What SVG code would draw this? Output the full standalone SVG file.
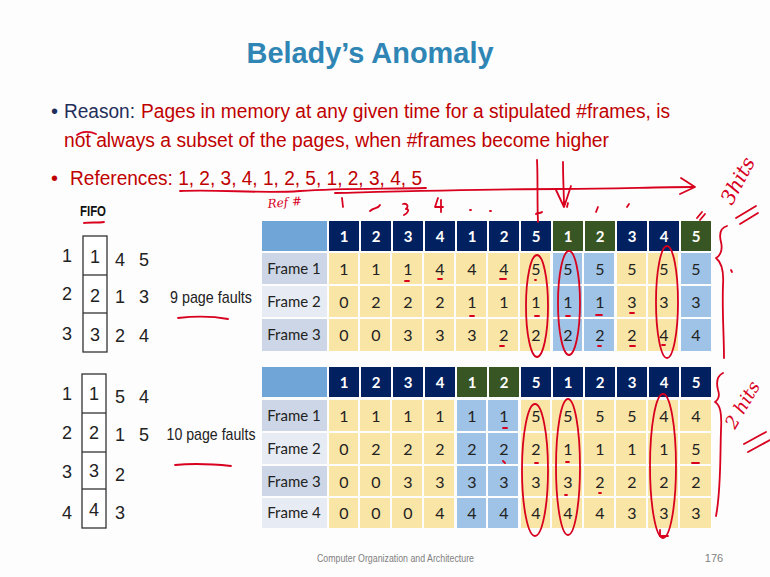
<svg xmlns="http://www.w3.org/2000/svg" width="770" height="577" viewBox="0 0 770 577">
<style>
.t{font-family:"Liberation Sans Narrow","Liberation Sans",Arial,sans-serif}
.nv{fill:#002060}.gr{fill:#375623}.ye{fill:#f9e5a6}.bl{fill:#9fc3e6}.hl{fill:#6fa5d7}.fd{fill:#ccd6e6}.fl{fill:#e7ebf3}
.hn{font-family:Lato,"Open Sans",sans-serif;font-weight:bold;font-size:15px;fill:#fff;text-anchor:middle}
.dn{font-family:Lato,"Open Sans",sans-serif;font-size:16px;fill:#222;text-anchor:middle}
.fn{font-family:Lato,"Open Sans",sans-serif;font-size:15px;fill:#222;text-anchor:middle}
.fi{font-family:"Liberation Sans",Arial,sans-serif;font-size:18px;fill:#222;text-anchor:middle}
.bx{fill:#fff;stroke:#333;stroke-width:1.3}
.ink{fill:none;stroke:#d8001e;stroke-width:1.8;stroke-linecap:round;stroke-linejoin:round}
.hw{font-family:"DejaVu Serif",serif;font-style:italic;fill:#d8001e}
</style>
<rect width="770" height="577" fill="#fdfdfd"/>
<g id="title"><text class="t" x="370" y="63" font-size="30" font-weight="bold" fill="#2f86b5" text-anchor="middle" textLength="247" lengthAdjust="spacingAndGlyphs">Belady’s Anomaly</text></g>
<g id="bullets" font-size="20">
<text class="t" x="51" y="118" fill="#1f2d5a">•</text>
<text class="t" x="64" y="118" fill="#1f2d5a" textLength="71" lengthAdjust="spacingAndGlyphs">Reason:</text>
<text class="t" x="141" y="118" fill="#c00000" textLength="529" lengthAdjust="spacingAndGlyphs">Pages in memory at any given time for a stipulated #frames, is</text>
<text class="t" x="64" y="147" fill="#c00000" textLength="545" lengthAdjust="spacingAndGlyphs">not always a subset of the pages, when #frames become higher</text>
<text class="t" x="51" y="185" fill="#c00000">•</text>
<text class="t" x="70" y="185" fill="#c00000" textLength="352" lengthAdjust="spacingAndGlyphs">References: 1, 2, 3, 4, 1, 2, 5, 1, 2, 3, 4, 5</text>
</g>
<g id="fifo3">
<text x="93" y="216" font-family="Liberation Sans Narrow,Liberation Sans,Arial,sans-serif" font-size="14" font-weight="bold" fill="#111" text-anchor="middle" textLength="26" lengthAdjust="spacingAndGlyphs">FIFO</text>
<rect class="bx" x="83" y="236" width="24" height="116"/>
<line x1="83" y1="275" x2="107" y2="275" stroke="#333" stroke-width="1.3"/>
<line x1="83" y1="313" x2="107" y2="313" stroke="#333" stroke-width="1.3"/>
<text class="fi" x="67" y="262">1</text><text class="fi" x="95" y="263">1</text><text class="fi" x="120" y="266">4</text><text class="fi" x="144" y="266">5</text>
<text class="fi" x="67" y="300">2</text><text class="fi" x="95" y="302">2</text><text class="fi" x="120" y="303">1</text><text class="fi" x="144" y="303">3</text>
<text class="fi" x="67" y="340">3</text><text class="fi" x="95" y="341">3</text><text class="fi" x="120" y="342">2</text><text class="fi" x="144" y="342">4</text>
<text x="211" y="303" font-family="Liberation Sans,Arial,sans-serif" font-size="17" fill="#222" text-anchor="middle" textLength="82" lengthAdjust="spacingAndGlyphs">9 page faults</text>
</g>
<g id="fifo4">
<rect class="bx" x="82" y="374" width="24" height="154"/>
<line x1="82" y1="413" x2="106" y2="413" stroke="#333" stroke-width="1.3"/>
<line x1="82" y1="452" x2="106" y2="452" stroke="#333" stroke-width="1.3"/>
<line x1="82" y1="489" x2="106" y2="489" stroke="#333" stroke-width="1.3"/>
<text class="fi" x="67" y="400">1</text><text class="fi" x="94" y="400">1</text><text class="fi" x="120" y="403">5</text><text class="fi" x="144" y="403">4</text>
<text class="fi" x="67" y="439">2</text><text class="fi" x="94" y="439">2</text><text class="fi" x="120" y="441">1</text><text class="fi" x="144" y="441">5</text>
<text class="fi" x="67" y="478">3</text><text class="fi" x="94" y="477">3</text><text class="fi" x="120" y="481">2</text>
<text class="fi" x="67" y="519">4</text><text class="fi" x="94" y="516">4</text><text class="fi" x="120" y="519">3</text>
<text x="211" y="440" font-family="Liberation Sans,Arial,sans-serif" font-size="17" fill="#222" text-anchor="middle" textLength="89" lengthAdjust="spacingAndGlyphs">10 page faults</text>
</g>
<g id="table3">
<rect class="hl" x="262" y="221" width="65" height="30"/>
<rect class="fd" x="262" y="253" width="65" height="31"/>
<rect class="fl" x="262" y="286" width="65" height="31"/>
<rect class="fd" x="262" y="319" width="65" height="32"/>
<text class="fn" x="294" y="274">Frame 1</text>
<text class="fn" x="294" y="307">Frame 2</text>
<text class="fn" x="294" y="340">Frame 3</text>
<g id="t3h">
<rect class="nv" x="329" y="221" width="30" height="30"/><rect class="nv" x="361" y="221" width="30" height="30"/><rect class="nv" x="393" y="221" width="30" height="30"/><rect class="nv" x="425" y="221" width="30" height="30"/><rect class="nv" x="457" y="221" width="30" height="30"/><rect class="nv" x="489" y="221" width="30" height="30"/><rect class="nv" x="521" y="221" width="30" height="30"/><rect class="gr" x="553" y="221" width="30" height="30"/><rect class="gr" x="585" y="221" width="30" height="30"/><rect class="nv" x="617" y="221" width="30" height="30"/><rect class="nv" x="649" y="221" width="30" height="30"/><rect class="gr" x="681" y="221" width="30" height="30"/>
<text class="hn" x="344" y="242">1</text><text class="hn" x="376" y="242">2</text><text class="hn" x="408" y="242">3</text><text class="hn" x="440" y="242">4</text><text class="hn" x="472" y="242">1</text><text class="hn" x="504" y="242">2</text><text class="hn" x="536" y="242">5</text><text class="hn" x="568" y="242">1</text><text class="hn" x="600" y="242">2</text><text class="hn" x="632" y="242">3</text><text class="hn" x="664" y="242">4</text><text class="hn" x="696" y="242">5</text>
</g>
<g id="t3cells">
<rect class="ye" x="329" y="253" width="222" height="98"/>
<rect class="bl" x="553" y="253" width="62" height="98"/>
<rect class="ye" x="617" y="253" width="62" height="98"/>
<rect class="bl" x="681" y="253" width="30" height="98"/>
<path d="M359 253V351M391 253V351M423 253V351M455 253V351M487 253V351M519 253V351M551 253V351M583 253V351M615 253V351M647 253V351M679 253V351M329 285H711M329 318H711" stroke="#fdfdfd" stroke-width="2"/>
</g>
<g id="t3vals">
<text class="dn" y="275"><tspan x="344">1</tspan><tspan x="376">1</tspan><tspan x="408">1</tspan><tspan x="440">4</tspan><tspan x="472">4</tspan><tspan x="504">4</tspan><tspan x="536">5</tspan><tspan x="568">5</tspan><tspan x="600">5</tspan><tspan x="632">5</tspan><tspan x="664">5</tspan><tspan x="696">5</tspan></text>
<text class="dn" y="308"><tspan x="344">0</tspan><tspan x="376">2</tspan><tspan x="408">2</tspan><tspan x="440">2</tspan><tspan x="472">1</tspan><tspan x="504">1</tspan><tspan x="536">1</tspan><tspan x="568">1</tspan><tspan x="600">1</tspan><tspan x="632">3</tspan><tspan x="664">3</tspan><tspan x="696">3</tspan></text>
<text class="dn" y="341"><tspan x="344">0</tspan><tspan x="376">0</tspan><tspan x="408">3</tspan><tspan x="440">3</tspan><tspan x="472">3</tspan><tspan x="504">2</tspan><tspan x="536">2</tspan><tspan x="568">2</tspan><tspan x="600">2</tspan><tspan x="632">2</tspan><tspan x="664">4</tspan><tspan x="696">4</tspan></text>
</g>
</g>
<g id="table4">
<rect class="hl" x="262" y="367" width="65" height="30"/>
<rect class="fd" x="262" y="400" width="65" height="31"/>
<rect class="fl" x="262" y="433" width="65" height="31"/>
<rect class="fd" x="262" y="466" width="65" height="30"/>
<rect class="fl" x="262" y="498" width="65" height="30"/>
<text class="fn" x="294" y="421">Frame 1</text>
<text class="fn" x="294" y="454">Frame 2</text>
<text class="fn" x="294" y="487">Frame 3</text>
<text class="fn" x="294" y="518">Frame 4</text>
<g id="t4h">
<rect class="nv" x="329" y="367" width="30" height="30"/><rect class="nv" x="361" y="367" width="30" height="30"/><rect class="nv" x="393" y="367" width="30" height="30"/><rect class="nv" x="425" y="367" width="30" height="30"/><rect class="gr" x="457" y="367" width="30" height="30"/><rect class="gr" x="489" y="367" width="30" height="30"/><rect class="nv" x="521" y="367" width="30" height="30"/><rect class="nv" x="553" y="367" width="30" height="30"/><rect class="nv" x="585" y="367" width="30" height="30"/><rect class="nv" x="617" y="367" width="30" height="30"/><rect class="nv" x="649" y="367" width="30" height="30"/><rect class="nv" x="681" y="367" width="30" height="30"/>
<text class="hn" x="344" y="388">1</text><text class="hn" x="376" y="388">2</text><text class="hn" x="408" y="388">3</text><text class="hn" x="440" y="388">4</text><text class="hn" x="472" y="388">1</text><text class="hn" x="504" y="388">2</text><text class="hn" x="536" y="388">5</text><text class="hn" x="568" y="388">1</text><text class="hn" x="600" y="388">2</text><text class="hn" x="632" y="388">3</text><text class="hn" x="664" y="388">4</text><text class="hn" x="696" y="388">5</text>
</g>
<g id="t4cells">
<rect class="ye" x="329" y="400" width="126" height="128"/>
<rect class="bl" x="457" y="400" width="62" height="128"/>
<rect class="ye" x="521" y="400" width="190" height="128"/>
<path d="M359 400V528M391 400V528M423 400V528M455 400V528M487 400V528M519 400V528M551 400V528M583 400V528M615 400V528M647 400V528M679 400V528M329 432H711M329 465H711M329 497H711" stroke="#fdfdfd" stroke-width="2"/>
</g>
<g id="t4vals">
<text class="dn" y="422"><tspan x="344">1</tspan><tspan x="376">1</tspan><tspan x="408">1</tspan><tspan x="440">1</tspan><tspan x="472">1</tspan><tspan x="504">1</tspan><tspan x="536">5</tspan><tspan x="568">5</tspan><tspan x="600">5</tspan><tspan x="632">5</tspan><tspan x="664">4</tspan><tspan x="696">4</tspan></text>
<text class="dn" y="455"><tspan x="344">0</tspan><tspan x="376">2</tspan><tspan x="408">2</tspan><tspan x="440">2</tspan><tspan x="472">2</tspan><tspan x="504">2</tspan><tspan x="536">2</tspan><tspan x="568">1</tspan><tspan x="600">1</tspan><tspan x="632">1</tspan><tspan x="664">1</tspan><tspan x="696">5</tspan></text>
<text class="dn" y="488"><tspan x="344">0</tspan><tspan x="376">0</tspan><tspan x="408">3</tspan><tspan x="440">3</tspan><tspan x="472">3</tspan><tspan x="504">3</tspan><tspan x="536">3</tspan><tspan x="568">3</tspan><tspan x="600">2</tspan><tspan x="632">2</tspan><tspan x="664">2</tspan><tspan x="696">2</tspan></text>
<text class="dn" y="519"><tspan x="344">0</tspan><tspan x="376">0</tspan><tspan x="408">0</tspan><tspan x="440">4</tspan><tspan x="472">4</tspan><tspan x="504">4</tspan><tspan x="536">4</tspan><tspan x="568">4</tspan><tspan x="600">4</tspan><tspan x="632">3</tspan><tspan x="664">3</tspan><tspan x="696">3</tspan></text>
</g>
</g>
<g id="footer" font-family="Liberation Sans Narrow,Liberation Sans,Arial,sans-serif" font-size="11" fill="#808080">
<text x="317" y="562" textLength="157" lengthAdjust="spacingAndGlyphs">Computer Organization and Architecture</text>
<text x="714" y="562" text-anchor="middle">176</text>
</g>
<g id="connectors">
<path class="ink" d="M180 191C220 189 260 194 300 191S380 189 426 188"/>
<path class="ink" d="M335 193C420 191 500 189 560 189S650 187 694 187"/>
<path class="ink" d="M681 178L695 187L680 194"/>
<path class="ink" d="M537 160C538 180 537 200 538 222"/>
<path class="ink" d="M563 162C563 180 564 195 564 207M556 190L564 207L571 186"/>
<path class="ink" d="M77 135C82 131 90 131 96 134"/>
<path class="ink" d="M84 223C90 222 98 223 104 222"/>
<path class="ink" d="M178 318C195 316 212 316 228 319"/>
<path class="ink" d="M175 465C195 463 212 464 231 466"/>
<ellipse class="ink" cx="537" cy="306" rx="11" ry="51"/>
<ellipse class="ink" cx="569" cy="303" rx="11" ry="52"/>
<ellipse class="ink" cx="667" cy="302" rx="11" ry="56"/>
<ellipse class="ink" cx="535" cy="470" rx="13" ry="66"/>
<ellipse class="ink" cx="568" cy="467" rx="12" ry="68"/>
<ellipse class="ink" cx="663" cy="466" rx="13" ry="72"/>
<path class="ink" d="M660 530V536H668"/>
<path class="ink" d="M727 226C720 228 719 234 721 242C723 250 720 256 716 258C721 262 724 270 723 285C722 310 724 335 724 358"/>
<path class="ink" d="M723 373C717 376 716 382 718 390C720 396 718 400 715 402C720 405 722 412 721 430C720 460 721 490 716 516"/>
<path class="ink" d="M731 270l1 2"/>
<path class="ink" d="M736 218L756 206M740 224L758 213"/>
<path class="ink" d="M744 444L766 432M748 452L770 440"/>
<path class="ink" d="M564 206l1 -4M567 207l1 -4M596 212l2 -5M627 207l2 -3M697 218l5 -6M700 220l5 -6"/>
<path class="ink" d="M405 281h4M438 279h4M500 279h6M535 280h1M470 316h4M535 316h4M566 316h4M596 315h6M630 313h4M500 346h4M598 346h3M630 346h5M662 345h3"/>
<path class="ink" d="M503 428h4M503 461l2 2M535 463h3M566 462h3M692 463h7M565 495h2M599 493h2"/>
<path class="ink" d="M342 198l1 9M370 211c4-4 8-2 10-6M403 204c4-1 6 2 3 5c4 0 2 4 -2 6M438 198l-3 9h8M441 200v12M470 210h1M490 211h1M536 214c2-2 4 0 6-2"/>
<text class="hw" x="268" y="208" font-size="12" transform="rotate(-5 268 208)">Ref #</text>
<text class="hw" x="732" y="206" font-size="20" transform="rotate(-62 732 206)">3hits</text>
<text class="hw" x="735" y="430" font-size="18" transform="rotate(-60 735 430)">2 hits</text>
</g>
</svg>
